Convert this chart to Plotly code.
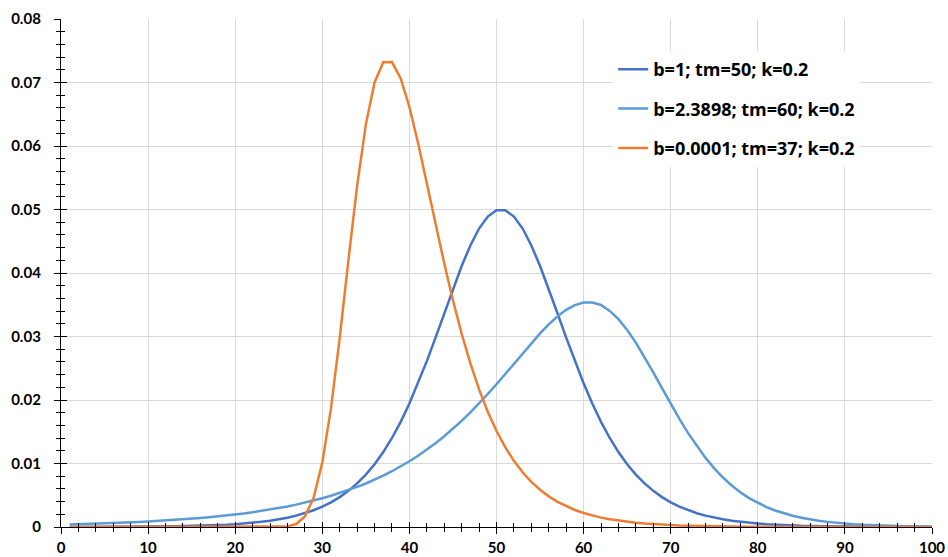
import plotly.graph_objects as go

# ---- data ----
x_vals = list(range(1, 101))

series_names = ["b=1; tm=50; k=0.2", "b=2.3898; tm=60; k=0.2", "b=0.0001; tm=37; k=0.2"]

blue_dark = [
    0.00001, 0.00001, 0.00002, 0.00002, 0.00002, 0.00003, 0.00003, 0.00004, 0.00005, 0.00006,
    0.00007, 0.00009, 0.00011, 0.00014, 0.00017, 0.00020, 0.00025, 0.00030, 0.00037, 0.00045,
    0.00055, 0.00067, 0.00081, 0.00099, 0.00121, 0.00147, 0.00179, 0.00217, 0.00264, 0.00321,
    0.00389, 0.00471, 0.00569, 0.00686, 0.00825, 0.00989, 0.01180, 0.01402, 0.01656, 0.01944,
    0.02264, 0.02612, 0.02983, 0.03366, 0.03747, 0.04110, 0.04434, 0.04700, 0.04889, 0.04988,
    0.04988, 0.04889, 0.04700, 0.04434, 0.04110, 0.03747, 0.03366, 0.02983, 0.02612, 0.02264,
    0.01944, 0.01656, 0.01402, 0.01180, 0.00989, 0.00825, 0.00686, 0.00569, 0.00471, 0.00389,
    0.00321, 0.00264, 0.00217, 0.00179, 0.00147, 0.00121, 0.00099, 0.00081, 0.00067, 0.00055,
    0.00045, 0.00037, 0.00030, 0.00025, 0.00020, 0.00017, 0.00014, 0.00011, 0.00009, 0.00007,
    0.00006, 0.00005, 0.00004, 0.00003, 0.00003, 0.00002, 0.00002, 0.00002, 0.00001, 0.00001,
]

blue_light = [
    0.000400, 0.000435, 0.000473, 0.000514, 0.000559, 0.000607, 0.000660, 0.000718, 0.000781, 0.000849,
    0.000923, 0.001004, 0.001091, 0.001186, 0.001290, 0.001403, 0.001525, 0.001658, 0.001803, 0.001960,
    0.002131, 0.002317, 0.002519, 0.002738, 0.002977, 0.003237, 0.003519, 0.003826, 0.004159, 0.004521,
    0.004914, 0.005341, 0.005805, 0.006308, 0.006854, 0.007447, 0.008088, 0.008784, 0.009537, 0.010351,
    0.011230, 0.012178, 0.013199, 0.014295, 0.015469, 0.016722, 0.018054, 0.019463, 0.020943, 0.022486,
    0.024079, 0.025704, 0.027335, 0.028943, 0.030484, 0.031913, 0.033172, 0.034204, 0.034947, 0.035337,
    0.035341, 0.034963, 0.034038, 0.032736, 0.031040, 0.029024, 0.026759, 0.024339, 0.021855, 0.019392,
    0.017017, 0.014785, 0.012733, 0.010881, 0.009236, 0.007793, 0.006544, 0.005471, 0.004558, 0.003786,
    0.003137, 0.002594, 0.002141, 0.001764, 0.001453, 0.001195, 0.000982, 0.000806, 0.000662, 0.000543,
    0.000445, 0.000365, 0.000299, 0.000245, 0.000201, 0.000165, 0.000135, 0.000110, 0.000090, 0.000074,
]

orange = [
    0.0, 0.0, 0.0, 0.0, 0.0, 0.0, 0.0, 0.0, 0.0, 0.0,
    0.0, 0.0, 0.0, 0.0, 0.0, 0.0, 0.0, 0.0, 0.0, 0.0,
    0.0, 0.0, 0.0, 0.000001, 0.000012, 0.000093, 0.000464, 0.001669, 0.004592, 0.010143,
    0.018714, 0.029797, 0.042047, 0.053755, 0.063409, 0.070004, 0.073200, 0.073219, 0.070636, 0.066141,
    0.060444, 0.054146, 0.047721, 0.041504, 0.035702, 0.030436, 0.025758, 0.021668, 0.018139, 0.015123,
    0.012568, 0.010415, 0.008613, 0.007109, 0.005860, 0.004824, 0.003967, 0.003260, 0.002677, 0.002197,
    0.001803, 0.001478, 0.001212, 0.000993, 0.000814, 0.000667, 0.000546, 0.000448, 0.000367, 0.000300,
    0.000246, 0.000201, 0.000165, 0.000135, 0.000111, 0.000091, 0.000074, 0.000061, 0.000050, 0.000041,
    0.000033, 0.000027, 0.000022, 0.000018, 0.000015, 0.000012, 0.000010, 0.000008, 0.000007, 0.000006,
    0.000005, 0.000004, 0.000003, 0.000002, 0.000002, 0.000002, 0.000001, 0.000001, 0.000001, 0.000001,
]

x_ticks = [0, 10, 20, 30, 40, 50, 60, 70, 80, 90, 100]
x_tick_labels = ["0", "10", "20", "30", "40", "50", "60", "70", "80", "90", "100"]
y_ticks = [0, 0.01, 0.02, 0.03, 0.04, 0.05, 0.06, 0.07, 0.08]
y_tick_labels = ["0", "0.01", "0.02", "0.03", "0.04", "0.05", "0.06", "0.07", "0.08"]

colors = ["#4472C4", "#5B9BD5", "#ED7D31"]
FONT = "Lato"

fig = go.Figure()
for i, (name, ys) in enumerate(zip(series_names, [blue_dark, blue_light, orange])):
    fig.add_trace(go.Scatter(
        x=x_vals, y=ys, mode="lines", name=name,
        line=dict(color=colors[i], width=2.5),
        legendgroup=f"g{i}",
    ))

# helper trace so the overlay axes (cross-style ticks) are drawn
fig.add_trace(go.Scatter(x=[None], y=[None], xaxis="x2", yaxis="y2",
                         showlegend=False, hoverinfo="skip"))

tickfont = dict(family=FONT, size=15, color="black", weight="bold")

fig.update_layout(
    width=948, height=557,
    margin=dict(l=61, r=16, t=19, b=30, autoexpand=False),
    paper_bgcolor="white", plot_bgcolor="white",
    showlegend=True,
    legend=dict(
        x=0.634, y=0.937, xanchor="left", yanchor="top",
        bgcolor="white", borderwidth=0,
        font=dict(family="Open Sans", size=18, color="black", weight="bold"),
        tracegroupgap=13,
        entrywidth=270,
    ),
    xaxis=dict(
        range=[0, 100], tickmode="array", tickvals=x_ticks, ticktext=x_tick_labels,
        showgrid=True, gridcolor="#d9d9d9", gridwidth=1,
        showline=True, linecolor="black", linewidth=1.3,
        ticks="outside", ticklen=6, tickcolor="black", tickwidth=1.3,
        minor=dict(tickmode="linear", tick0=0, dtick=2, ticks="outside", ticklen=4,
                   tickcolor="black", tickwidth=1.3, showgrid=False),
        zeroline=False, tickfont=tickfont, ticklabelstandoff=1, automargin=False,
    ),
    yaxis=dict(
        range=[0, 0.08], tickmode="array", tickvals=y_ticks, ticktext=y_tick_labels,
        showgrid=True, gridcolor="#d9d9d9", gridwidth=1,
        showline=True, linecolor="black", linewidth=1.3,
        ticks="outside", ticklen=6, tickcolor="black", tickwidth=1.3,
        minor=dict(tickmode="linear", tick0=0, dtick=0.002, ticks="outside", ticklen=4,
                   tickcolor="black", tickwidth=1.3, showgrid=False),
        zeroline=False, tickfont=tickfont, ticklabelstandoff=10, automargin=False,
    ),
    xaxis2=dict(
        overlaying="x", anchor="y2", side="bottom", range=[0, 100],
        tickmode="array", tickvals=x_ticks, showticklabels=False,
        showgrid=False, showline=False, zeroline=False, automargin=False,
        ticks="inside", ticklen=5, tickcolor="black", tickwidth=1.3,
        minor=dict(tickmode="linear", tick0=0, dtick=2, ticks="inside", ticklen=4,
                   tickcolor="black", tickwidth=1.3, showgrid=False),
    ),
    yaxis2=dict(
        overlaying="y", anchor="x2", side="left", range=[0, 0.08],
        tickmode="array", tickvals=y_ticks, showticklabels=False,
        showgrid=False, showline=False, zeroline=False, automargin=False,
        ticks="inside", ticklen=6, tickcolor="black", tickwidth=1.3,
        minor=dict(tickmode="linear", tick0=0, dtick=0.002, ticks="inside", ticklen=4,
                   tickcolor="black", tickwidth=1.3, showgrid=False),
    ),
)

fig.write_html("out.html")
